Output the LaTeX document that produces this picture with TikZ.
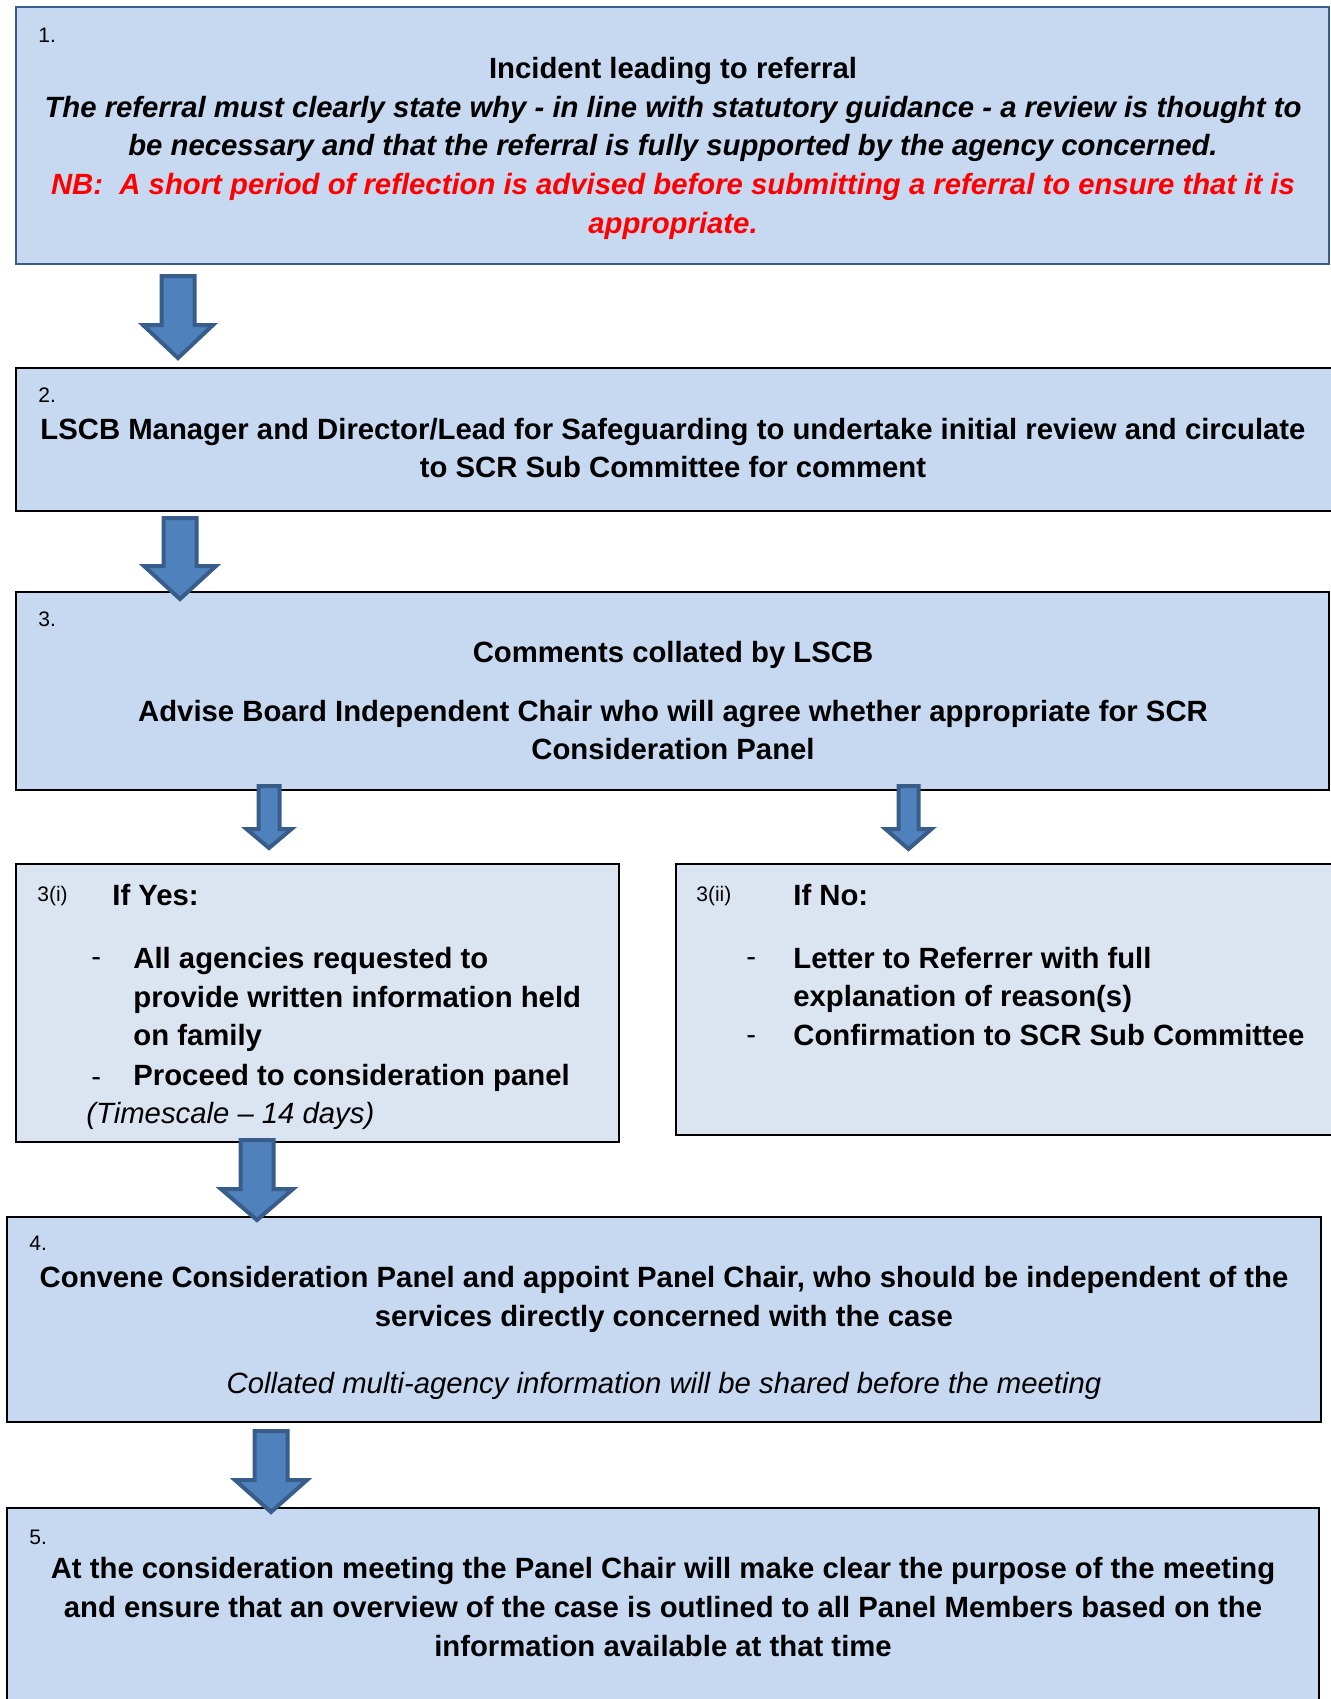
\documentclass[tikz,border=0pt]{standalone}
\usepackage{fontspec}
\setmainfont{Liberation Sans}
\definecolor{boxblue}{HTML}{C6D9F1}
\definecolor{paleblue}{HTML}{DBE5F1}
\definecolor{arrowblue}{HTML}{4F81BD}
\definecolor{arrowedge}{HTML}{385D8A}
\newcommand{\bodyfont}{\fontsize{14.65pt}{19.4pt}\selectfont}
\newcommand{\numfont}{\fontsize{10.5pt}{12pt}\selectfont}
% fat arrow: x, top, tip, shaft half width, head half width, head start
\newcommand{\fatarrow}[6]{%
  \filldraw[fatarr] (#1-#4,#2) -- (#1+#4,#2) -- (#1+#4,#6) -- (#1+#5,#6)
    -- (#1,#3) -- (#1-#5,#6) -- (#1-#4,#6) -- cycle;}
\begin{document}
\begin{tikzpicture}[x=0.5pt,y=-0.5pt,
  stepbox/.style={draw=black,line width=1pt,fill=boxblue,inner sep=0pt},
  choicebox/.style={stepbox,fill=paleblue},
  fatarr/.style={fill=arrowblue,draw=arrowedge,line width=2pt,line join=miter},
  txt/.style={inner sep=0pt,font=\bodyfont\bfseries,align=center},
  lefttxt/.style={inner sep=0pt,font=\bodyfont\bfseries,align=left,anchor=west},
  bulletdash/.style={lefttxt,font=\bodyfont,text height=10.7pt,text depth=3pt},
  num/.style={inner sep=0pt,font=\numfont,anchor=west}]
\useasboundingbox (0,0) rectangle (1330,1699);

% boxes
\node[stepbox,draw=arrowedge,minimum width=656.5pt,minimum height=128.5pt] (incident) at (672.5,135.5) {};
\node[stepbox,minimum width=660pt,minimum height=71.5pt] (initial) at (676,439.5) {};
\node[stepbox,minimum width=656.5pt,minimum height=99pt] (collate) at (672.5,691) {};
\node[choicebox,minimum width=301.5pt,minimum height=139pt] (yes) at (317.5,1003) {};
\node[choicebox,minimum width=330pt,minimum height=135.5pt] (no) at (1006,999.5) {};
\node[stepbox,minimum width=657pt,minimum height=102.5pt] (panel) at (664,1319.5) {};
\node[stepbox,minimum width=656pt,minimum height=106pt] (meeting) at (663,1614) {};

% arrows
\fatarrow{178}{276}{358}{16.5}{35}{325}
\fatarrow{180}{518}{599}{16.5}{36}{566}
\fatarrow{269}{786}{848}{10.5}{22.5}{829}
\fatarrow{908.5}{786}{849}{10}{23}{829}
\fatarrow{257}{1140}{1220}{16.5}{36}{1189}
\fatarrow{271}{1431}{1512}{16.5}{36}{1480}

% 1.
\node[num] (n1) at (38,35) {1.};
\node[txt] (t1) at (673,70.5) {Incident leading to referral};
\node[txt,font=\bodyfont\bfseries\itshape] (t1b) at (673,129)
  {The referral must clearly state why - in line with statutory guidance - a review is thought to\\
   be necessary and that the referral is fully supported by the agency concerned.};
\node[txt,font=\bodyfont\bfseries\itshape,text=red] (t1c) at (673,206.5)
  {NB:\ \ A short period of reflection is advised before submitting a referral to ensure that it is\\
   appropriate.};

% 2.
\node[num] (n2) at (38,395) {2.};
\node[txt] (t2) at (673,448)
  {LSCB Manager and Director/Lead for Safeguarding to undertake initial review and circulate\\
   to SCR Sub Committee for comment};

% 3.
\node[num] (n3) at (38,619) {3.};
\node[txt] (t3) at (673,654.5) {Comments collated by LSCB};
\node[txt] (t3b) at (673,730)
  {Advise Board Independent Chair who will agree whether appropriate for SCR\\
   Consideration Panel};

% 3(i)
\node[num] (n3i) at (37,896) {3(i)};
\node[lefttxt] (yeshead) at (112,895) {If Yes:};
\node[bulletdash] (yd1) at (91,959) {-};
\node[lefttxt] (ya) at (133,999.5)
  {All agencies requested to\\provide written information held\\on family};
\node[bulletdash] (yd2) at (91,1079) {-};
\node[lefttxt] (yb) at (133,1077.5) {Proceed to consideration panel};
\node[lefttxt,font=\bodyfont\itshape] (ytime) at (86,1116) {(Timescale -- 14 days)};

% 3(ii)
\node[num] (n3ii) at (696,896) {3(ii)};
\node[lefttxt] (nohead) at (793,895) {If No:};
\node[bulletdash] (nd1) at (746,959) {-};
\node[lefttxt] (na) at (793,980)
  {Letter to Referrer with full\\explanation of reason(s)};
\node[bulletdash] (nd2) at (746,1037) {-};
\node[lefttxt] (nb) at (793,1035) {Confirmation to SCR Sub Committee};

% 4.
\node[num] (n4) at (29,1243) {4.};
\node[txt] (t4) at (664,1299.5)
  {Convene Consideration Panel and appoint Panel Chair, who should be independent of the\\
   services directly concerned with the case};
\node[txt,font=\bodyfont\itshape] (t4b) at (664,1386)
  {Collated multi-agency information will be shared before the meeting};

% 5.
\node[num] (n5) at (29,1537) {5.};
\node[txt] (t5) at (663,1607)
  {At the consideration meeting the Panel Chair will make clear the purpose of the meeting\\
   and ensure that an overview of the case is outlined to all Panel Members based on the\\
   information available at that time};
\end{tikzpicture}
\end{document}
